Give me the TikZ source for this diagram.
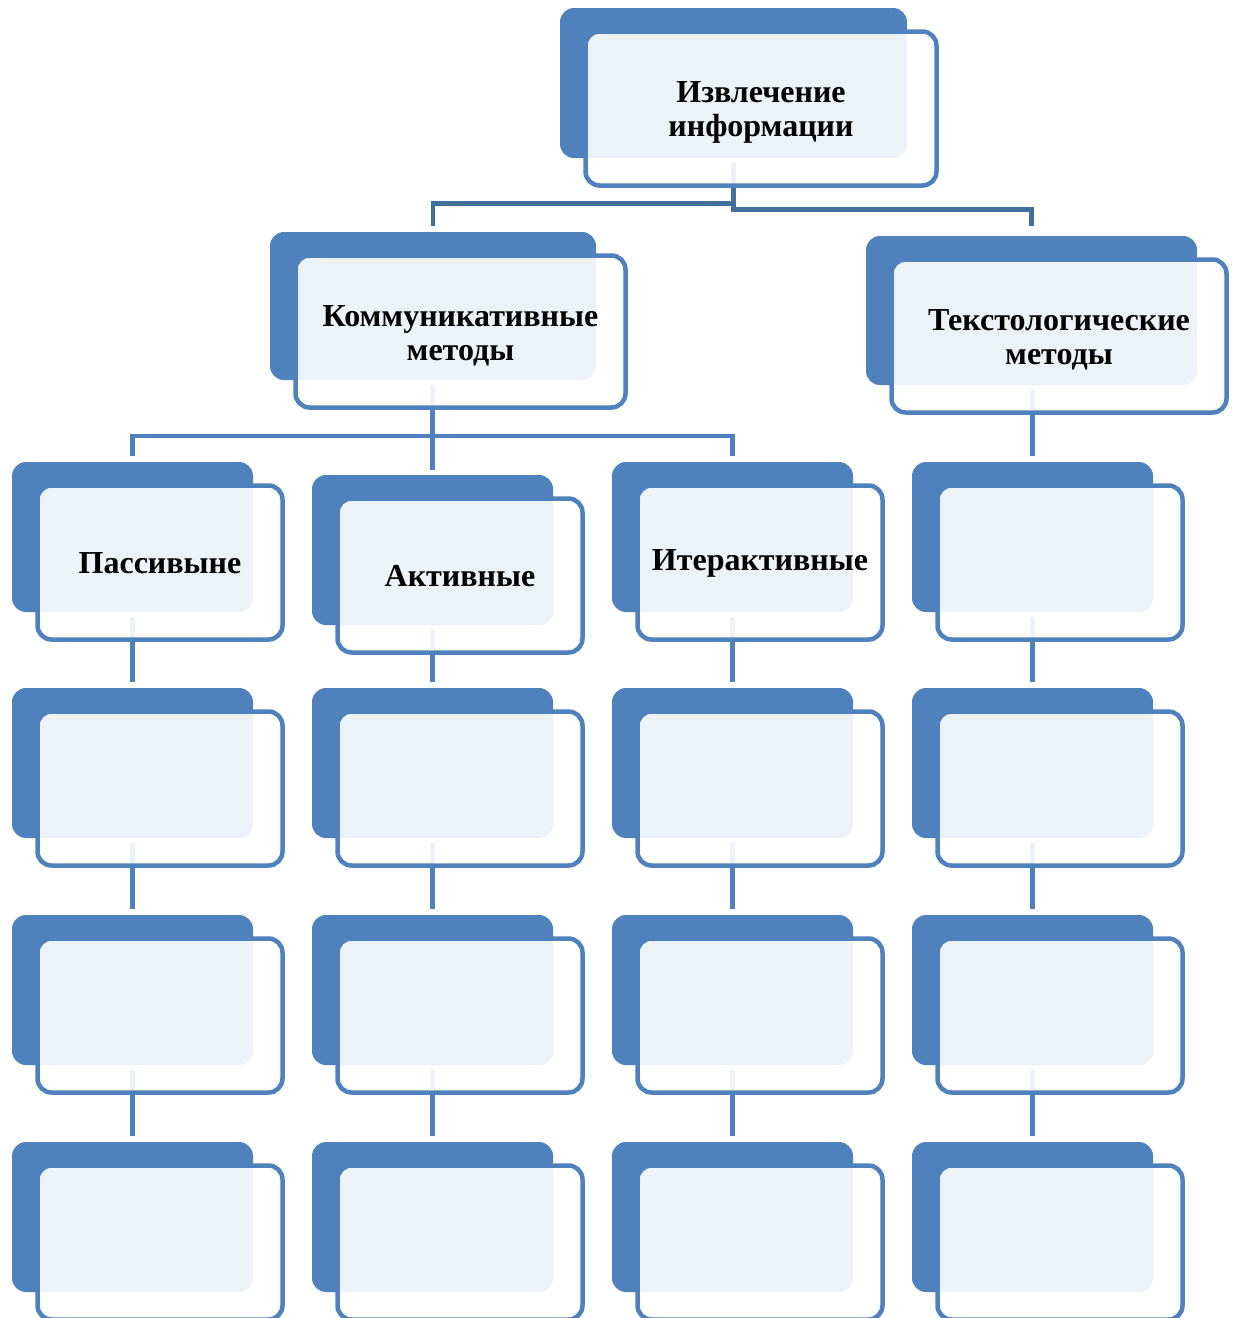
\documentclass[tikz,border=0pt]{standalone}
\usepackage{fontspec}
\setmainfont{Liberation Serif}
\definecolor{sablue}{HTML}{4F81BD}
\definecolor{sadark}{HTML}{41709F}
\tikzset{
  backsty/.style={fill=sablue, rounded corners=14pt, inner sep=0pt, outer sep=0pt, anchor=north west},
  frontsty/.style={draw=sablue, line width=4.5pt, fill=white, fill opacity=0.9,
    rounded corners=14pt, inner sep=0pt, outer sep=0pt, anchor=north west},
  txtsty/.style={align=center, inner sep=0pt, font=\bfseries\fontsize{32}{34}\selectfont, text=black},
  conn/.style={draw=sablue, line width=4.5pt},
  topconn/.style={draw=sadark, line width=4.5pt},
}
% #1 name, #2 x, #3 y, #4 width, #5 height
\newcommand\bk[5]{\node[backsty, minimum width=#4pt, minimum height=#5pt] (#1) at (#2,#3) {};}
% #1 name, #2 back node, #3 width, #4 height
\newcommand\fr[4]{\node[frontsty, minimum width={#3pt+4pt}, minimum height={#4pt+4pt}]
  (#1) at ([xshift=25.5pt,yshift=-23.5pt]#2.north west) {};}
\begin{document}
\begin{tikzpicture}[x=1pt,y=-1pt]
\useasboundingbox (0,0) rectangle (1233,1318);
\clip (0,0) rectangle (1233,1318);
% back boxes
\bk{b0}{560}{8}{347}{150}
\bk{b1}{270}{232}{326}{148}
\bk{b2}{866}{236}{331}{149}
\bk{c11}{12}{462}{241}{150}
\bk{c21}{312}{475}{241}{150}
\bk{c31}{612}{462}{241}{150}
\bk{c41}{912}{462}{241}{150}
\bk{c12}{12}{688}{241}{150}
\bk{c22}{312}{688}{241}{150}
\bk{c32}{612}{688}{241}{150}
\bk{c42}{912}{688}{241}{150}
\bk{c13}{12}{915}{241}{150}
\bk{c23}{312}{915}{241}{150}
\bk{c33}{612}{915}{241}{150}
\bk{c43}{912}{915}{241}{150}
\bk{c14}{12}{1142}{241}{150}
\bk{c24}{312}{1142}{241}{150}
\bk{c34}{612}{1142}{241}{150}
\bk{c44}{912}{1142}{241}{150}
% connectors
\coordinate (j1) at (733.5,203.5);
\coordinate (j2) at (733.5,209.5);
\coordinate (j3) at (432.5,436);
\draw[topconn] ([yshift=-5pt]b0.south) -- (j2) -| ([yshift=10pt]b2.north);
\draw[topconn] (j1) -| ([yshift=6pt]b1.north);
\draw[conn] ([yshift=-5pt]c21.north |- b1.south) -- ([yshift=5pt]c21.north);
\draw[conn] (j3) -| ([yshift=6pt]c11.north);
\draw[conn] (j3) -| ([yshift=6pt]c31.north);
\draw[conn] ([yshift=-5pt]c41.north |- b2.south) -- ([yshift=6pt]c41.north);
\foreach \c in {1,2,3,4}{
  \draw[conn] ([yshift=-5pt]c\c1.south) -- ([yshift=6pt]c\c2.north);
  \draw[conn] ([yshift=-5pt]c\c2.south) -- ([yshift=6pt]c\c3.north);
  \draw[conn] ([yshift=-5pt]c\c3.south) -- ([yshift=6pt]c\c4.north);
}
% front boxes
\fr{f0}{b0}{347}{150}
\fr{f1}{b1}{326}{148}
\fr{f2}{b2}{331}{149}
\fr{g11}{c11}{241}{150}
\fr{g21}{c21}{241}{150}
\fr{g31}{c31}{241}{150}
\fr{g41}{c41}{241}{150}
\fr{g12}{c12}{241}{150}
\fr{g22}{c22}{241}{150}
\fr{g32}{c32}{241}{150}
\fr{g42}{c42}{241}{150}
\fr{g13}{c13}{241}{150}
\fr{g23}{c23}{241}{150}
\fr{g33}{c33}{241}{150}
\fr{g43}{c43}{241}{150}
\fr{g14}{c14}{241}{150}
\fr{g24}{c24}{241}{150}
\fr{g34}{c34}{241}{150}
\fr{g44}{c44}{241}{150}
% texts
\node[txtsty] (t0) at ([yshift=-4pt]f0.center) {Извлечение\\информации};
\node[txtsty] (t1) at ([yshift=-4pt]f1.center) {Коммуникативные\\методы};
\node[txtsty] (t2) at ([yshift=-4pt]f2.center) {Текстологические\\методы};
\node[txtsty] (t11) at ([yshift=-1pt]g11.center) {Пассивыне};
\node[txtsty] (t21) at ([yshift=-1pt]g21.center) {Активные};
\node[txtsty] (t31) at ([yshift=-1pt]g31.center) {Итерактивные};
\end{tikzpicture}
\end{document}
